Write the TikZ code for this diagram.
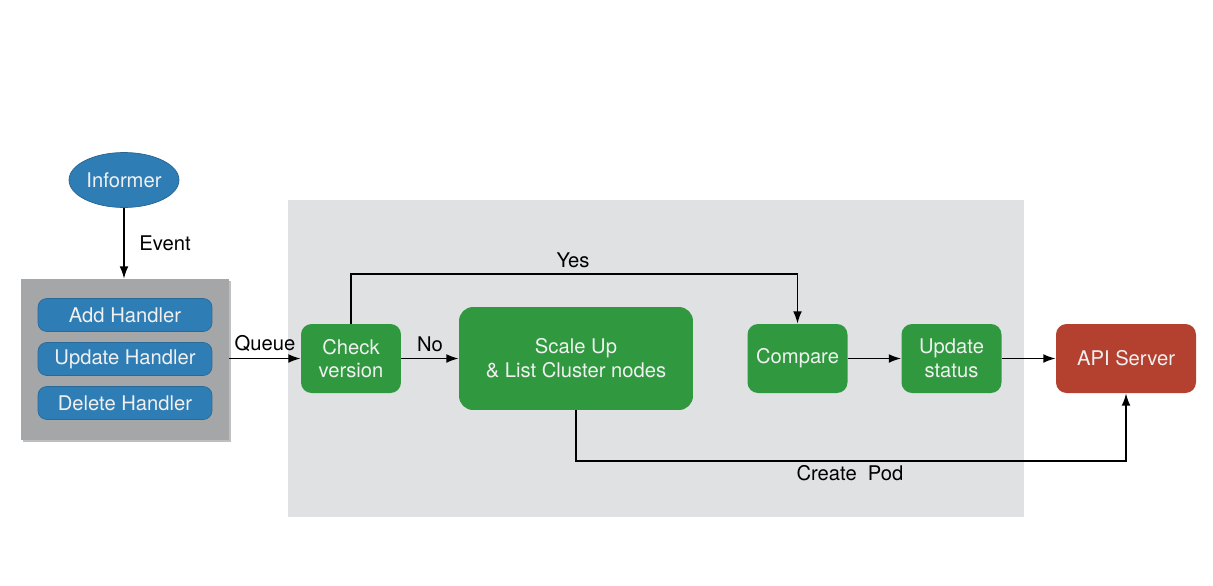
\documentclass[tikz,border=0pt]{standalone}
\usepackage{fontspec}
\setmainfont{TeX Gyre Heros}
\usetikzlibrary{arrows.meta,shapes.geometric}
\definecolor{infoblue}{HTML}{2F7DB5}
\definecolor{stepgreen}{HTML}{30993F}
\definecolor{apired}{HTML}{B4412F}
\definecolor{handlergray}{HTML}{A4A6A7}
\definecolor{panelgray}{HTML}{E0E1E3}
\begin{document}
\begin{tikzpicture}[x=0.02cm,y=-0.02cm,font=\fontsize{11.5}{13.5}\selectfont,
  handler/.style={rounded corners=5pt,fill=infoblue,draw=infoblue!85!black,text=white!94!black,minimum width=3.48cm,minimum height=0.66cm,inner sep=0pt},
  stepbox/.style={rounded corners=6pt,fill=stepgreen,text=white!94!black,align=center,minimum width=2cm,minimum height=1.38cm,inner sep=0pt},
  flow/.style={-{Latex[length=7pt,width=5pt]},line width=0.9pt}]
    \useasboundingbox (0,0) rectangle (1213,585);
    % panels
    \fill[panelgray] (288,200) rectangle (1024,517);
    \fill[black!25] (23,281) rectangle (231,442);
    \node [fill=handlergray,minimum width=4.16cm,minimum height=3.22cm,inner sep=0pt] (hbox) at (125,359.5) {};
    \node [ellipse,fill=infoblue,draw=infoblue!80!black,text=white!94!black,minimum width=2.2cm,minimum height=1.1cm,inner sep=0pt] (informer) at (124,180) {Informer};
    \node [handler] (add) at (125,315) {Add Handler};
    \node [handler] (update) at (125,359) {Update Handler};
    \node [handler] (delete) at (125,403) {Delete Handler};
    % controller
    \node [stepbox] (check) at (351,358.5) {Check\\version};
    \node [stepbox,minimum width=4.68cm,minimum height=2.06cm,rounded corners=8pt] (scale) at (576,358.5) {Scale Up\\\& List Cluster nodes};
    \node [stepbox] (compare) at (797.5,358.5) {Compare};
    \node [stepbox] (status) at (951.5,358.5) {Update\\status};
    \node [stepbox,fill=apired,minimum width=2.8cm] (api) at (1126,358.5) {API Server};
    \draw [flow] (informer) -- (hbox.north -| informer) node [midway,right=5pt] {Event};
    \draw [flow] (hbox.east |- check) -- (check) node [midway,above] {Queue};
    \draw [flow] (check) -- (scale) node [midway,above] {No};
    \draw [flow] (check.north) |- (573,274) node [above] {Yes} -| (compare.north);
    \draw [flow] (compare) -- (status);
    \draw [flow] (status) -- (api);
    \draw [flow] (scale.south) |- (850,461) node [below=-1pt] {Create\ \ Pod} -| (api.south);
\end{tikzpicture}
\end{document}
